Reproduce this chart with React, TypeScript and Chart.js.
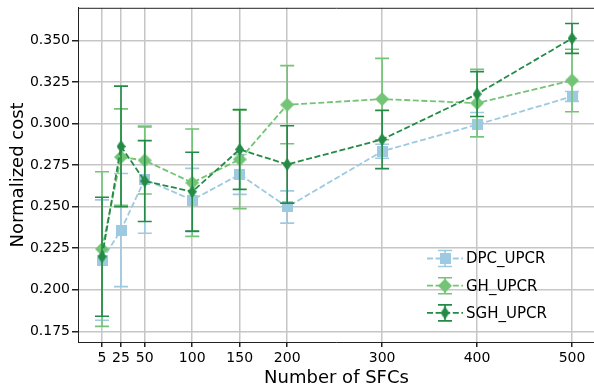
import { useEffect, useRef } from 'react';
import { Chart, registerables } from 'chart.js';

Chart.register(...registerables);

const xValues = [5, 25, 50, 100, 150, 200, 300, 400, 500];
const xTicks = [5, 25, 50, 100, 150, 200, 300, 400, 500];
const yTicks = [0.175, 0.2, 0.225, 0.25, 0.275, 0.3, 0.325, 0.35];

const seriesNames = ['DPC_UPCR', 'GH_UPCR', 'SGH_UPCR'];
const dpcMean = [0.2179, 0.2359, 0.2664, 0.254, 0.2694, 0.2498, 0.2833, 0.2993, 0.3163];
const dpcErr = [0.0362, 0.034, 0.0324, 0.019, 0.012, 0.0097, 0.0042, 0.0073, 0.003];
const ghMean = [0.2245, 0.2798, 0.2778, 0.2644, 0.2784, 0.3113, 0.3147, 0.3123, 0.3259];
const ghErr = [0.0465, 0.029, 0.0202, 0.0323, 0.0296, 0.0235, 0.0245, 0.0203, 0.0188];
const sghMean = [0.2199, 0.2862, 0.2654, 0.259, 0.2844, 0.2754, 0.2904, 0.3177, 0.3512];
const sghErr = [0.0358, 0.0363, 0.0243, 0.0237, 0.024, 0.0233, 0.0175, 0.0135, 0.009];

const colors = ['#9ecae1', '#74c476', '#238b45'];
const FONT = '"DejaVu Sans", sans-serif';

function makeMarker(kind: string, color: string): HTMLCanvasElement {
  const c = document.createElement('canvas');
  let w = 11, h = 11;
  if (kind === 'diamond') { w = 14; h = 14; }
  if (kind === 'thin') { w = 9; h = 13; }
  c.width = w; c.height = h;
  const g = c.getContext('2d')!;
  g.fillStyle = color;
  if (kind === 'square') {
    g.fillRect(0, 0, w, h);
  } else {
    g.beginPath();
    g.moveTo(w / 2, 0);
    g.lineTo(w, h / 2);
    g.lineTo(w / 2, h);
    g.lineTo(0, h / 2);
    g.closePath();
    g.fill();
  }
  return c;
}

const CANVAS_W = 620;
const CANVAS_H = 389;

export default function App() {
  const ref = useRef<HTMLCanvasElement | null>(null);
  useEffect(() => {
    const canvas = ref.current!;
    const markers = [
      makeMarker('square', colors[0]),
      makeMarker('diamond', colors[1]),
      makeMarker('thin', colors[2]),
    ];
    const means = [dpcMean, ghMean, sghMean];
    const errs = [dpcErr, ghErr, sghErr];

    const drawErr = (ctx: CanvasRenderingContext2D, x: number, yTop: number, yBot: number, color: string) => {
      ctx.save();
      ctx.strokeStyle = color;
      ctx.lineWidth = 1.6;
      ctx.setLineDash([]);
      ctx.beginPath();
      ctx.moveTo(x, yTop); ctx.lineTo(x, yBot);
      ctx.moveTo(x - 7, yTop); ctx.lineTo(x + 7, yTop);
      ctx.moveTo(x - 7, yBot); ctx.lineTo(x + 7, yBot);
      ctx.stroke();
      ctx.restore();
    };

    const errorPlugin = {
      id: 'errorBars',
      beforeDatasetDraw(chart: any, args: any) {
        const i = args.index;
        const ctx = chart.ctx;
        const xs = chart.scales.x, ys = chart.scales.y;
        xValues.forEach((xv, k) => {
          const px = xs.getPixelForValue(xv);
          drawErr(ctx, px, ys.getPixelForValue(means[i][k] + errs[i][k]), ys.getPixelForValue(means[i][k] - errs[i][k]), colors[i]);
        });
      },
    };

    const framePlugin = {
      id: 'frameAndLegend',
      afterDraw(chart: any) {
        const ctx = chart.ctx;
        const a = chart.chartArea;
        ctx.save();
        ctx.strokeStyle = '#222';
        ctx.lineWidth = 1;
        ctx.beginPath();
        ctx.moveTo(a.left, a.top + 0.5);
        ctx.lineTo(a.right, a.top + 0.5);
        ctx.stroke();
        // legend
        const lx0 = 427, lx1 = 463, mx = 445, tx = 466;
        seriesNames.forEach((name, i) => {
          const y = 258.5 + i * 27.2;
          ctx.save();
          ctx.strokeStyle = colors[i];
          ctx.lineWidth = 1.8;
          ctx.setLineDash([6, 2.6]);
          ctx.beginPath();
          ctx.moveTo(lx0, y); ctx.lineTo(lx1, y);
          ctx.stroke();
          ctx.restore();
          drawErr(ctx, mx, y - 8, y + 8, colors[i]);
          const m = markers[i];
          ctx.drawImage(m, mx - m.width / 2, y - m.height / 2);
          ctx.fillStyle = '#000';
          ctx.font = '15px ' + FONT;
          ctx.textBaseline = 'middle';
          ctx.textAlign = 'left';
          ctx.fillText(name, tx, y + 1);
        });
        ctx.restore();
      },
    };

    const mkData = (arr: number[]) => xValues.map((x, k) => ({ x, y: arr[k] }));
    const datasets = [dpcMean, ghMean, sghMean].map((arr, i) => ({
      label: seriesNames[i],
      data: mkData(arr),
      borderColor: colors[i],
      backgroundColor: colors[i],
      borderWidth: 1.8,
      borderDash: [6, 2.6],
      pointStyle: markers[i],
      pointRadius: 6,
      pointHoverRadius: 6,
      tension: 0,
      order: 3 - i,
    }));

    const chart = new Chart(canvas, {
      type: 'line',
      data: { datasets },
      plugins: [errorPlugin, framePlugin],
      options: {
        animation: false,
        responsive: false,
        devicePixelRatio: 1,
        layout: { padding: { left: 0, top: 6, right: CANVAS_W - 595, bottom: 0 } },
        plugins: { legend: { display: false }, tooltip: { enabled: false } },
        scales: {
          x: {
            type: 'linear',
            min: -20.3,
            max: 524.2,
            afterBuildTicks: (s: any) => { s.ticks = xTicks.map((v) => ({ value: v })); },
            afterFit: (s: any) => { s.height = 47; },
            ticks: {
              autoSkip: false,
              maxRotation: 0,
              color: '#000',
              font: { family: FONT, size: 14 },
              padding: 3,
              callback: (v: any) => String(v),
            },
            grid: { color: '#c6c6c6', lineWidth: 1.5, tickColor: '#222', tickLength: 5 },
            border: { display: true, color: '#222', width: 1 },
            title: { display: true, text: 'Number of SFCs', color: '#000', font: { family: FONT, size: 18 }, padding: { top: -7, bottom: 0 } },
          },
          y: {
            type: 'linear',
            min: 0.1686,
            max: 0.3696,
            afterBuildTicks: (s: any) => { s.ticks = yTicks.map((v) => ({ value: v })); },
            afterFit: (s: any) => { s.width = 78; s.paddingTop = 0; s.paddingBottom = 0; },
            ticks: {
              color: '#000',
              font: { family: FONT, size: 14 },
              padding: 2,
              callback: (v: any) => Number(v).toFixed(3),
            },
            grid: { color: '#c6c6c6', lineWidth: 1.5, tickColor: '#222', tickLength: 6 },
            border: { display: true, color: '#222', width: 1 },
            title: { display: true, text: 'Normalized cost', color: '#000', font: { family: FONT, size: 18 }, padding: { top: 8, bottom: 0 } },
          },
        },
      },
    } as any);
    return () => chart.destroy();
  }, []);
  return (
    <div style={{ position: 'absolute', left: 0, top: 0, width: 594, height: 389, overflow: 'hidden' }}>
      <canvas ref={ref} width={CANVAS_W} height={CANVAS_H} style={{ width: CANVAS_W, height: CANVAS_H, display: 'block' }} />
    </div>
  );
}
